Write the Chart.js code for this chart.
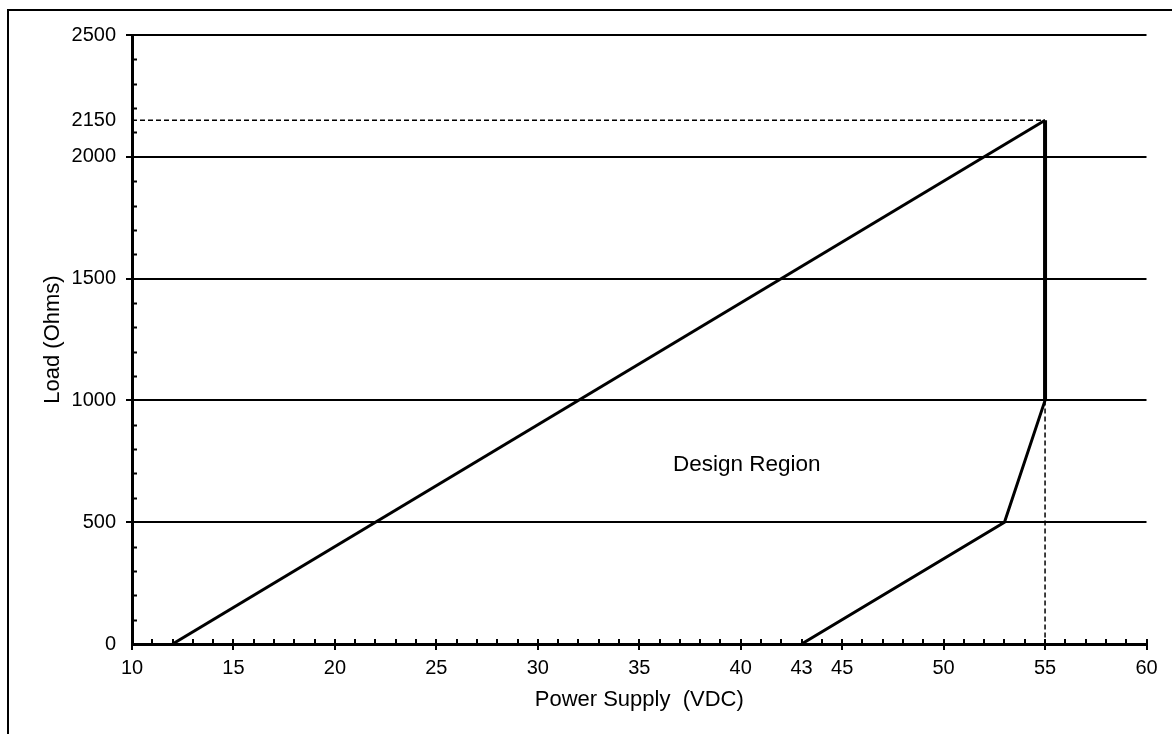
<!DOCTYPE html>
<html>
<head>
<meta charset="utf-8">
<script src="https://cdn.jsdelivr.net/npm/chart.js@4/dist/chart.umd.min.js"></script>
<style>
  html, body { margin: 0; padding: 0; background: #fff; }
  #wrap { width: 1172px; height: 734px; position: relative; }
  canvas { display: block; }
</style>
</head>
<body>
<div id="wrap"><canvas id="c" width="1172" height="734"></canvas></div>
<script>
// Axis tick values
const xTickValues = [10, 15, 20, 25, 30, 35, 40, 43, 45, 50, 55, 60];
const yTickValues = [0, 500, 1000, 1500, 2000, 2150, 2500];

// Operating boundary (supply voltage vs. load)
const boundaryVolts = [12, 55];
const boundaryOhms = [0, 2150];
const maxVoltVolts = [55, 55];
const maxVoltOhms = [2150, 1000];
const lowerVolts = [55, 53, 43];
const lowerOhms = [1000, 500, 0];

// Reference (dashed) lines
const refHVolts = [10, 55];
const refHOhms = [2150, 2150];
const refVVolts = [55, 55];
const refVOhms = [1000, 0];

// Region label
const regionLabel = 'Design Region';
const regionVolt = 40.3;
const regionOhm = 735;

const pts = (xs, ys) => xs.map((x, i) => ({ x: x, y: ys[i] }));

const FONT = "'Liberation Sans', Arial, sans-serif";

const minorTicks = {
  id: 'minorTicks',
  beforeDraw(chart) {
    const ctx = chart.ctx;
    ctx.save();
    ctx.fillStyle = '#fff';
    ctx.fillRect(0, 0, chart.width, chart.height);
    // frame
    ctx.strokeStyle = '#000';
    ctx.lineWidth = 2;
    ctx.beginPath();
    ctx.moveTo(8, chart.height + 2);
    ctx.lineTo(8, 10);
    ctx.lineTo(chart.width + 2, 10);
    ctx.stroke();
    ctx.restore();
  },
  afterDraw(chart) {
    const ctx = chart.ctx;
    const xs = chart.scales.x, ys = chart.scales.y;
    const a = chart.chartArea;
    ctx.save();
    ctx.strokeStyle = '#000';
    ctx.lineWidth = 2;
    ctx.beginPath();
    // y minor ticks every 100, on the inside
    for (let v = 100; v < 2500; v += 100) {
      if (v % 500 === 0) continue;
      const py = Math.round(ys.getPixelForValue(v)) + 0.5;
      ctx.moveTo(a.left, py);
      ctx.lineTo(a.left + 5, py);
    }
    // x ticks every 1 volt
    for (let v = 11; v <= 60; v += 1) {
      const px = Math.round(xs.getPixelForValue(v));
      if (v % 5 === 0) {
        ctx.moveTo(px, a.bottom - 5);
        ctx.lineTo(px, a.bottom + 6);
      } else {
        ctx.moveTo(px, a.bottom - 5);
        ctx.lineTo(px, a.bottom);
      }
    }
    ctx.moveTo(a.left, a.bottom);
    ctx.lineTo(a.left, a.bottom + 6);
    ctx.stroke();

    // region label
    ctx.fillStyle = '#000';
    ctx.font = '22.5px ' + FONT;
    ctx.textAlign = 'center';
    ctx.textBaseline = 'middle';
    ctx.fillText(regionLabel, xs.getPixelForValue(regionVolt), ys.getPixelForValue(regionOhm));
    ctx.restore();
  }
};

const solid = { borderColor: '#000', borderWidth: 3, pointRadius: 0, showLine: true, fill: false, tension: 0 };
const dashed = { borderColor: '#000', borderWidth: 1.5, borderDash: [5, 3], pointRadius: 0, showLine: true, fill: false, tension: 0 };

new Chart(document.getElementById('c'), {
  type: 'scatter',
  data: {
    datasets: [
      Object.assign({ data: pts(refHVolts, refHOhms) }, dashed),
      Object.assign({ data: pts(refVVolts, refVOhms) }, dashed),
      Object.assign({ data: pts(boundaryVolts, boundaryOhms) }, solid),
      Object.assign({ data: pts(maxVoltVolts, maxVoltOhms) }, solid, { borderWidth: 4 }),
      Object.assign({ data: pts(lowerVolts, lowerOhms) }, solid)
    ]
  },
  options: {
    responsive: false,
    animation: false,
    devicePixelRatio: 1,
    layout: { padding: { top: 35, right: 25.5, left: 0, bottom: 0 } },
    plugins: { legend: { display: false }, tooltip: { enabled: false } },
    scales: {
      x: {
        type: 'linear',
        min: 10, max: 60,
        afterBuildTicks(scale) { scale.ticks = xTickValues.map(v => ({ value: v })); },
        afterFit(scale) { scale.height = 90; },
        grid: { display: true, drawOnChartArea: false, drawTicks: false, color: 'transparent' },
        border: { display: true, color: '#000', width: 3 },
        ticks: { color: '#000', font: { family: FONT, size: 20 }, padding: 12, maxRotation: 0, autoSkip: false, callback: v => String(v) },
        title: { display: true, text: 'Power Supply  (VDC)', color: '#000', font: { family: FONT, size: 22 }, padding: { top: 0, bottom: 21 } }
      },
      y: {
        type: 'linear',
        min: 0, max: 2500,
        afterBuildTicks(scale) { scale.ticks = yTickValues.map(v => ({ value: v })); },
        afterFit(scale) { scale.width = 132; },
        grid: {
          color: ctx => (ctx.tick && ctx.tick.value === 2150) || (ctx.tick && ctx.tick.value === 0) ? 'transparent' : '#000',
          lineWidth: 2,
          drawTicks: true,
          tickLength: 6
        },
        border: { display: true, color: '#000', width: 3 },
        ticks: { color: '#000', font: { family: FONT, size: 20 }, padding: 10, autoSkip: false, callback: v => String(v) },
        title: { display: true, text: 'Load (Ohms)', color: '#000', font: { family: FONT, size: 22 }, padding: { top: 40, bottom: 0 } }
      }
    }
  },
  plugins: [minorTicks]
});
</script>
</body>
</html>
